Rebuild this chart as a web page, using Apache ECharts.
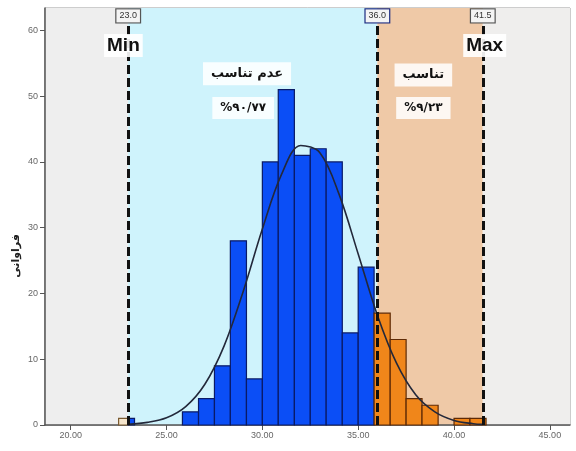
<!DOCTYPE html>
<html>
<head>
<meta charset="utf-8">
<script src="https://cdn.jsdelivr.net/npm/echarts@6/dist/echarts.min.js"></script>
<style>
html, body { margin: 0; padding: 0; background: #fff; }
#chart { width: 576px; height: 451px; }
</style>
</head>
<body>
<div id="chart"></div>
<script>
// histogram bins (lower edge, upper edge, frequency)
const blueLow = [23.0, 25.83, 26.67, 27.5, 28.33, 29.17, 30.0, 30.83, 31.67, 32.5, 33.33, 34.17, 35.0];
const blueHigh = [23.33, 26.67, 27.5, 28.33, 29.17, 30.0, 30.83, 31.67, 32.5, 33.33, 34.17, 35.0, 35.83];
const blueCount = [1, 2, 4, 9, 28, 7, 40, 51, 41, 42, 40, 14, 24];

const orangeLow = [35.83, 36.67, 37.5, 38.33, 40.0, 40.83];
const orangeHigh = [36.67, 37.5, 38.33, 39.17, 40.83, 41.67];
const orangeCount = [17, 13, 4, 3, 1, 1];

const belowLow = [22.5];
const belowHigh = [23.0];
const belowCount = [1];

// normal curve
const curveX = [23, 24, 25, 26, 27, 28, 29, 30, 31, 32, 33, 34, 35, 36, 37, 38, 39, 40, 41, 41.5];
const curveY = [0.1, 0.4, 1.1, 2.8, 6.2, 12.0, 20.3, 29.8, 38.1, 42.5, 41.4, 35.1, 26.0, 16.7, 9.4, 4.6, 2.0, 0.7, 0.2, 0.1];

// zones: below min, non-conforming, conforming, above max
const zoneLow = [18.66, 23.0, 36.0, 41.5];
const zoneHigh = [23.0, 36.0, 41.5, 46.05];

const limits = [23.0, 36.0, 41.5];
const limitLabels = ['23.0', '36.0', '41.5'];

const xTicks = [20, 25, 30, 35, 40, 45];
const yTicks = [0, 10, 20, 30, 40, 50, 60];

const zoneColors = ['#eeeeee', '#cff3fc', '#efc9a7', '#efeeed'];
const arFont = "'DejaVu Sans', sans-serif";

const chart = echarts.init(document.getElementById('chart'));

function bins(low, high, count) {
    return low.map((v, i) => [v, high[i], count[i]]);
}

function barRender(fill, stroke) {
    return function (params, api) {
        const p0 = api.coord([api.value(0), 0]);
        const p1 = api.coord([api.value(1), api.value(2)]);
        return {
            type: 'rect',
            shape: { x: p0[0], y: p1[1], width: p1[0] - p0[0], height: p0[1] - p1[1] },
            style: { fill: fill, stroke: stroke, lineWidth: 1.2 }
        };
    };
}

const option = {
    animation: false,
    textStyle: { fontFamily: 'Liberation Sans, Arial, sans-serif' },
    grid: {
        left: 45, right: 6, top: 8, bottom: 26,
        show: true, borderColor: '#9a9a9a', borderWidth: 1, backgroundColor: 'transparent'
    },
    xAxis: {
        type: 'value',
        min: 18.66,
        max: 46.05,
        axisLine: { show: true, onZero: false, lineStyle: { color: '#555', width: 1.5 } },
        axisTick: { show: true, customValues: xTicks, length: 5, lineStyle: { color: '#555' } },
        axisLabel: {
            customValues: xTicks,
            formatter: (v) => v.toFixed(2),
            fontSize: 9, color: '#666', margin: 6
        },
        splitLine: { show: false }
    },
    yAxis: {
        type: 'value',
        min: 0,
        max: 63.4,
        axisLine: { show: true, lineStyle: { color: '#555', width: 1.5 } },
        axisTick: { show: true, customValues: yTicks, length: 5, lineStyle: { color: '#555' } },
        axisLabel: { customValues: yTicks, fontSize: 9, color: '#666', margin: 7 },
        splitLine: { show: false }
    },
    graphic: [{
        type: 'text',
        x: 16, y: 256,
        rotation: Math.PI / 2,
        style: {
            text: 'فراوانی',
            font: 'bold 11px ' + arFont,
            fill: '#222',
            textAlign: 'center',
            textVerticalAlign: 'middle'
        }
    }],
    series: [
        {
            type: 'custom',
            z: 0,
            silent: true,
            data: zoneLow.map((v, i) => [v, zoneHigh[i], i]),
            encode: { x: [0, 1] },
            renderItem(params, api) {
                const p0 = api.coord([api.value(0), 0]);
                const p1 = api.coord([api.value(1), 63.4]);
                return {
                    type: 'rect',
                    shape: { x: p0[0], y: p1[1], width: p1[0] - p0[0], height: p0[1] - p1[1] },
                    style: { fill: zoneColors[api.value(2)] }
                };
            }
        },
        {
            type: 'custom',
            z: 2,
            data: bins(belowLow, belowHigh, belowCount),
            encode: { x: [0, 1], y: 2 },
            renderItem: barRender('#f6e6cc', '#7a5a30')
        },
        {
            type: 'custom',
            z: 2,
            data: bins(blueLow, blueHigh, blueCount),
            encode: { x: [0, 1], y: 2 },
            renderItem: barRender('#0b4ef6', '#0a1a66')
        },
        {
            type: 'custom',
            z: 2,
            data: bins(orangeLow, orangeHigh, orangeCount),
            encode: { x: [0, 1], y: 2 },
            renderItem: barRender('#f0861a', '#5e2a06')
        },
        {
            type: 'line',
            z: 3,
            data: curveX.map((x, i) => [x, curveY[i]]),
            showSymbol: false,
            smooth: 0.35,
            lineStyle: { color: '#23283a', width: 1.6 }
        },
        {
            type: 'line',
            z: 5,
            data: [],
            markLine: {
                silent: true,
                symbol: ['none', 'none'],
                label: { show: false },
                lineStyle: { color: '#111', width: 3, type: [9, 4] },
                data: limits.map((x) => [{ coord: [x, 0] }, { coord: [x, 61.5] }])
            },
            markPoint: {
                silent: true,
                symbolSize: 0,
                data: [
                    ...limits.map((x, i) => ({
                        coord: [x, 62.2],
                        label: {
                            formatter: limitLabels[i],
                            fontSize: 9, color: '#333',
                            backgroundColor: '#f4f4f4',
                            borderColor: i === 1 ? '#1a2a80' : '#555',
                            borderWidth: 1.2, padding: [2, 3]
                        }
                    })),
                    {
                        coord: [22.75, 57.7],
                        label: {
                            formatter: 'Min', fontSize: 19, fontWeight: 'bold', color: '#111',
                            backgroundColor: 'rgba(255,255,255,0.9)', padding: [2, 3]
                        }
                    },
                    {
                        coord: [41.6, 57.7],
                        label: {
                            formatter: 'Max', fontSize: 19, fontWeight: 'bold', color: '#111',
                            backgroundColor: 'rgba(255,255,255,0.9)', padding: [2, 3]
                        }
                    },
                    {
                        coord: [29.2, 53.4],
                        label: {
                            formatter: 'عدم تناسب', fontSize: 13, fontWeight: 'bold', color: '#111',
                            fontFamily: arFont,
                            backgroundColor: 'rgba(255,255,255,0.85)', padding: [5, 8]
                        }
                    },
                    {
                        coord: [29.0, 48.2],
                        label: {
                            formatter: '%۹۰/۷۷', fontSize: 12, fontWeight: 'bold', color: '#111',
                            fontFamily: arFont,
                            backgroundColor: 'rgba(255,255,255,0.85)', padding: [5, 8]
                        }
                    },
                    {
                        coord: [38.4, 53.2],
                        label: {
                            formatter: 'تناسب', fontSize: 13, fontWeight: 'bold', color: '#111',
                            fontFamily: arFont,
                            backgroundColor: 'rgba(255,255,255,0.85)', padding: [5, 8]
                        }
                    },
                    {
                        coord: [38.4, 48.2],
                        label: {
                            formatter: '%۹/۲۳', fontSize: 12, fontWeight: 'bold', color: '#111',
                            fontFamily: arFont,
                            backgroundColor: 'rgba(255,255,255,0.85)', padding: [5, 8]
                        }
                    }
                ]
            }
        }
    ]
};

option && chart.setOption(option);
</script>
</body>
</html>
